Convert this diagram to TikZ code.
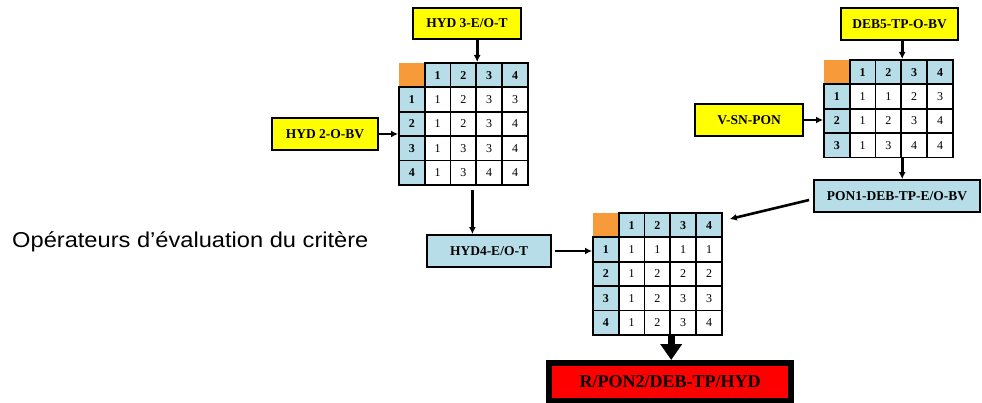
\documentclass[tikz,border=0pt]{standalone}
\usepackage{fontspec}
\setmainfont{Liberation Serif}
\newfontfamily\captionfont[FakeStretch=1.1]{Liberation Sans}
\usetikzlibrary{arrows.meta}

\definecolor{cellblue}{HTML}{B7DEE8}
\definecolor{cornerorange}{HTML}{F79A3A}
\definecolor{boxyellow}{HTML}{FFFF00}
\definecolor{resultred}{HTML}{FF0000}

\tikzset{
  cell/.style={draw=black, line width=1.8pt, minimum width=25.8pt,
    minimum height=24.4pt, inner sep=0pt, anchor=north west,
    font=\fontsize{12}{12}\selectfont},
  headcell/.style={cell, fill=cellblue, font=\bfseries\fontsize{12}{12}\selectfont},
  datacell/.style={cell, fill=white},
  cornercell/.style={cell, draw=none, fill=cornerorange},
  inbox/.style={draw=black, line width=1.8pt, fill=boxyellow, inner sep=0pt,
    font=\bfseries\fontsize{13.5}{13.5}\selectfont},
  outbox/.style={inbox, fill=cellblue},
  resultbox/.style={draw=black, line width=6pt, fill=resultred, inner sep=0pt,
    font=\bfseries\fontsize{18}{18}\selectfont},
  link/.style={-{Latex[length=7pt,width=7pt]}, line width=2.6pt},
  biglink/.style={-{Triangle[length=16pt,width=21pt]}, line width=7pt}
}

% \opgrid{name}{left}{top}{data rows as {a,b,c,d},...}
\newcommand{\opgrid}[4]{%
  \node[cornercell] (#1-0-0) at (#2,#3) {};
  \foreach \c in {1,...,4}
    \node[headcell] (#1-0-\c) at ({#2+\c*25.8},#3) {\c};
  \foreach \row [count=\r] in {#4} {
    \node[headcell] (#1-\r-0) at (#2,{#3+\r*24.4}) {\r};
    \foreach \v [count=\c] in \row
      \node[datacell] (#1-\r-\c) at ({#2+\c*25.8},{#3+\r*24.4}) {\v};
  }%
}

\begin{document}
\begin{tikzpicture}[x=1pt, y=-1pt]
\useasboundingbox (0,0) rectangle (982,403);
\clip (0,0) rectangle (982,403);

% operator grids
\opgrid{m1}{398}{62}{{1,2,3,3},{1,2,3,4},{1,3,3,4},{1,3,4,4}}
\opgrid{m2}{823}{59}{{1,1,2,3},{1,2,3,4},{1,3,4,4}}
\opgrid{m3}{592}{212}{{1,1,1,1},{1,2,2,2},{1,2,3,3},{1,2,3,4}}

% input and intermediate criteria
\node[inbox, minimum width=108pt, minimum height=31pt] (hyd3) at (467,23.5) {HYD 3-E/O-T};
\node[inbox, minimum width=106pt, minimum height=32pt] (hyd2) at (325,134) {HYD 2-O-BV};
\node[outbox, minimum width=124pt, minimum height=32pt] (hyd4) at (489,251) {HYD4-E/O-T};
\node[inbox, minimum width=117pt, minimum height=32pt] (deb5) at (899.5,24) {DEB5-TP-O-BV};
\node[inbox, minimum width=108pt, minimum height=32pt] (vsn) at (749,120) {V-SN-PON};
\node[outbox, minimum width=166pt, minimum height=32pt] (pon1) at (897,196) {PON1-DEB-TP-E/O-BV};

% final result
\node[resultbox, minimum width=242pt, minimum height=38pt] (res) at (670,382) {R/PON2/DEB-TP/HYD};

% caption
\node[anchor=base west, inner sep=0pt, font=\captionfont\fontsize{21.5}{21.5}\selectfont]
  (caption) at (12,248) {Opérateurs d’évaluation du critère};

% connectors
\draw[link] (m1-0-2.north east |- hyd3.south) -- (m1-0-2.north east);
\draw[link] (hyd2.east) -- (hyd2.east -| m1-2-0.west);
\coordinate (m1out) at ([xshift=9pt, yshift=-4pt]m1-4-2.south);
\draw[link] (m1out) -- (m1out |- hyd4.north);
\draw[link] ([xshift=3pt]hyd4.east) -- (hyd4.east -| m3-1-0.west);

\draw[link] (m2-0-2.north east |- deb5.south) -- (m2-0-2.north east);
\draw[link] (vsn.east) -- (vsn.east -| m2-2-0.west);
\draw[link] (m2-3-2.south east) -- (m2-3-2.south east |- pon1.north);
\draw[link] ([shift={(-4pt,-4pt)}]pon1.west) -- ([shift={(7pt,-7pt)}]m3-0-4.north east);

\draw[biglink] (m3-4-2.south east) -- (m3-4-2.south east |- res.north);
\end{tikzpicture}
\end{document}
